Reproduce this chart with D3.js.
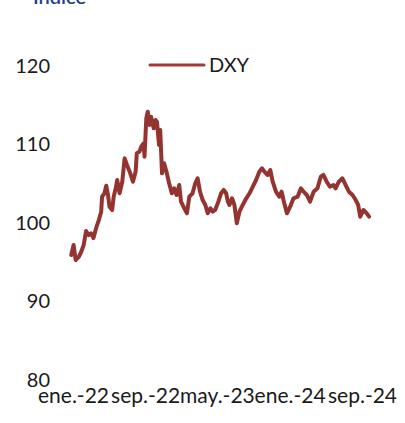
<!DOCTYPE html>
<html>
<head>
<meta charset="utf-8">
<script src="https://cdn.jsdelivr.net/npm/d3@7"></script>
<style>
  html, body { margin: 0; padding: 0; background: #fff; }
  svg { display: block; }
  text { font-family: Lato, "Open Sans", sans-serif; }
</style>
</head>
<body>
<svg id="chart" width="405" height="423"></svg>
<script>
const title = "Índice";
const seriesName = "DXY";
const dates = [
  "2021-12-26","2022-01-03","2022-01-10","2022-01-21","2022-01-29","2022-02-06","2022-02-14","2022-02-23",
  "2022-03-03","2022-03-11","2022-03-20","2022-03-29","2022-04-06","2022-04-09","2022-04-17","2022-04-23",
  "2022-04-29","2022-05-04","2022-05-13","2022-05-18","2022-05-25","2022-05-30","2022-06-07","2022-06-16",
  "2022-06-24","2022-07-02","2022-07-11","2022-07-22","2022-07-31","2022-08-04","2022-08-13","2022-08-19",
  "2022-08-27","2022-08-30","2022-09-05","2022-09-10","2022-09-16","2022-09-21","2022-09-30","2022-10-06",
  "2022-10-11","2022-10-18","2022-10-22","2022-10-28","2022-11-04","2022-11-12","2022-11-21","2022-11-30",
  "2022-12-08","2022-12-16","2022-12-25","2022-12-31","2023-01-11","2023-01-20","2023-01-28","2023-02-08",
  "2023-02-17","2023-02-25","2023-03-05","2023-03-14","2023-03-23","2023-03-31","2023-04-09","2023-04-17",
  "2023-04-25","2023-05-04","2023-05-15","2023-05-24","2023-06-01","2023-06-07","2023-06-12","2023-06-21",
  "2023-06-29","2023-07-07","2023-07-16","2023-07-27","2023-08-08","2023-08-19","2023-08-30","2023-09-10",
  "2023-09-21","2023-09-30","2023-10-08","2023-10-19","2023-10-28","2023-11-05","2023-11-16","2023-11-27",
  "2023-12-05","2023-12-14","2023-12-23","2024-01-03","2024-01-14","2024-01-28","2024-02-08","2024-02-17",
  "2024-02-28","2024-03-10","2024-03-22","2024-04-04","2024-04-15","2024-04-24","2024-05-05","2024-05-16",
  "2024-05-28","2024-06-04","2024-06-15","2024-06-27","2024-07-08","2024-07-19","2024-07-31","2024-08-11",
  "2024-08-19","2024-08-26","2024-09-06","2024-09-17","2024-09-25"
];
const dxy = [
  95.80,97.07,95.16,95.58,96.22,97.07,98.85,98.34,
  98.56,97.96,99.24,100.25,101.31,103.22,103.66,104.62,
  103.44,101.95,101.53,103.22,104.29,105.35,103.66,105.13,
  108.11,107.26,106.41,105.13,106.41,108.75,108.96,109.59,
  110.03,108.32,113.21,114.05,112.36,113.41,111.94,112.99,
  112.74,109.81,111.72,106.20,107.48,106.41,104.93,103.66,
  104.29,103.44,104.71,102.59,101.75,101.11,103.22,103.66,
  104.93,105.57,103.86,102.80,102.17,101.11,101.75,101.31,
  101.53,102.38,103.66,104.08,103.66,102.59,102.17,103.02,
  102.17,99.83,101.31,102.17,103.02,103.66,104.50,105.35,
  106.41,106.84,106.41,105.99,106.62,105.13,103.86,103.22,
  103.86,102.38,101.11,101.95,103.02,103.22,104.29,103.86,
  103.44,102.59,103.86,104.29,105.77,105.99,105.13,104.50,
  104.71,104.29,105.13,105.57,104.71,103.86,103.44,102.80,
  102.17,100.68,101.53,101.11,100.68
];
const yTicks = [80, 90, 100, 110, 120];
const xTickDates = ["2022-01-01","2022-09-01","2023-05-01","2024-01-01","2024-09-01"];
const xTickLabels = ["ene.-22","sep.-22","may.-23","ene.-24","sep.-24"];

const parse = d3.timeParse("%Y-%m-%d");
const data = dates.map((d, i) => ({ date: parse(d), value: dxy[i] }));

const svg = d3.select("#chart");
const lineColor = "#943431";

const x = d3.scaleTime()
  .domain([parse("2022-01-01"), parse("2024-09-01")])
  .range([73, 362]);
const y = d3.scaleLinear().domain([80, 120]).range([379, 65]);

// title (cut off at top, as in the reference)
svg.append("text")
  .attr("x", 33).attr("y", 3.5)
  .attr("font-size", 20).attr("font-weight", 600)
  .attr("fill", "#1f3e8c")
  .text(title);

// y axis labels
const yAxis = d3.axisLeft(y).tickValues(yTicks).tickSize(0).tickPadding(0);
const gy = svg.append("g").attr("transform", "translate(50,0)").call(yAxis);
gy.select(".domain").remove();
gy.selectAll("text")
  .attr("font-size", 20).attr("fill", "#1a1a1a")
  .attr("font-family", "Lato, sans-serif")
  .attr("dy", "0.36em");

// x axis labels
const xAxis = d3.axisBottom(x)
  .tickValues(xTickDates.map(parse))
  .tickFormat((d, i) => xTickLabels[i])
  .tickSize(0).tickPadding(0);
const gx = svg.append("g").attr("transform", "translate(0,387)").call(xAxis);
gx.select(".domain").remove();
gx.selectAll("text")
  .attr("font-size", 21).attr("fill", "#1a1a1a")
  .attr("font-family", "Lato, sans-serif")
  .attr("dy", "0.74em");

// line
const line = d3.line().x(d => x(d.date)).y(d => y(d.value)).curve(d3.curveLinear);
svg.append("path")
  .datum(data)
  .attr("d", line)
  .attr("fill", "none")
  .attr("stroke", lineColor)
  .attr("stroke-width", 4)
  .attr("stroke-linejoin", "round")
  .attr("stroke-linecap", "round");

// legend
svg.append("line")
  .attr("x1", 150).attr("x2", 204).attr("y1", 65).attr("y2", 65)
  .attr("stroke", "#a03a36").attr("stroke-width", 3)
  .attr("stroke-linecap", "round");
svg.append("text")
  .attr("x", 209).attr("y", 65).attr("dy", "0.36em")
  .attr("font-size", 20).attr("fill", "#1a1a1a")
  .text(seriesName);
</script>
</body>
</html>
